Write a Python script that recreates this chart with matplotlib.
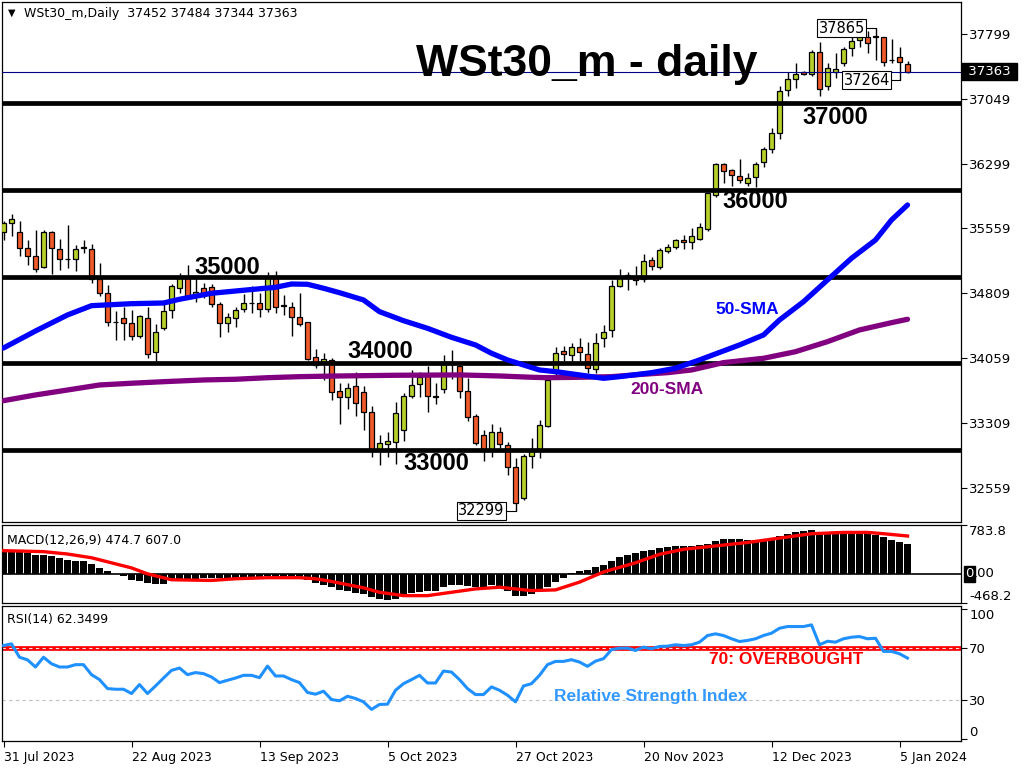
import matplotlib
matplotlib.use('Agg')
import matplotlib.pyplot as plt
import matplotlib.transforms as mtransforms
from matplotlib.patches import Rectangle
import pandas as pd

# daily bars, 31 Jul 2023 .. 8 Jan 2024 (no bars on 25 Dec and 1 Jan)
dates = [d for d in pd.bdate_range('2023-07-31', '2024-01-08')
         if d.strftime('%m-%d') not in ('12-25', '01-01')]

opens = [35514, 35615, 35511, 35326, 35241, 35114, 35511, 35315, 35199, 35199,
         35330, 35315, 34972, 34807, 34473, 34519, 34461, 34315, 34519, 34133,
         34410, 34614, 34865, 34987, 34780, 34865, 34883, 34680, 34461, 34526,
         34622, 34690, 34692, 34622, 34987, 34662, 34653, 34537, 34476, 34069,
         34018, 34038, 33680, 33614, 33738, 33672, 33434, 32999, 33065, 33088,
         33230, 33626, 33757, 33853, 33612, 33700, 34018, 33968, 33680, 33391,
         33172, 32999, 33203, 33057, 32800, 32442, 32930, 33011, 33276, 33884,
         34145, 34095, 34191, 34103, 33930, 34288, 34384, 34895, 34984, 34999,
         34969, 35191, 35107, 35295, 35338, 35422, 35396, 35430, 35553, 35941,
         36296, 36230, 36161, 36083, 36146, 36319, 36469, 36653, 37153, 37276,
         37361, 37334, 37595, 37199, 37357, 37461, 37634, 37730, 37761, 37765,
         37761, 37497, 37530, 37452]
highs = [35641, 35719, 35641, 35422, 35538, 35538, 35526, 35430, 35595, 35364,
         35422, 35373, 35153, 34903, 34603, 34653, 34611, 34557, 34653, 34449,
         34680, 34911, 35038, 35134, 34980, 34923, 34911, 34703, 34576, 34653,
         34796, 34891, 34814, 35056, 35068, 34788, 34710, 34807, 34480, 34161,
         34115, 34057, 33769, 33776, 33903, 33738, 33507, 33172, 33210, 33557,
         33653, 33922, 33903, 33968, 33769, 34095, 34153, 33980, 33826, 33414,
         33230, 33299, 33268, 33095, 32903, 32953, 33134, 33345, 33864, 34184,
         34199, 34230, 34288, 34242, 34346, 34441, 34961, 35084, 35056, 35122,
         35257, 35223, 35333, 35373, 35437, 35480, 35557, 35622, 35979, 36307,
         36307, 36241, 36357, 36192, 36326, 36492, 36711, 37199, 37364, 37461,
         37376, 37614, 37710, 37468, 37576, 37646, 37807, 37822, 37834, 37865,
         37768, 37741, 37646, 37484]
lows = [35422, 35472, 35241, 35134, 35050, 35096, 35026, 35076, 35103, 35064,
        35269, 34923, 34780, 34433, 34268, 34268, 34268, 34288, 34064, 34018,
        34384, 34519, 34807, 34738, 34710, 34749, 34653, 34307, 34357, 34422,
        34595, 34576, 34537, 34595, 34583, 34557, 34318, 34430, 34038, 33942,
        33807, 33576, 33299, 33469, 33395, 33230, 32915, 32826, 32922, 32838,
        33106, 33596, 33614, 33441, 33530, 33660, 33815, 33596, 33337, 33057,
        32876, 32922, 33019, 32711, 32299, 32420, 32788, 32903, 33268, 33845,
        34026, 34018, 34018, 33884, 33884, 34184, 34307, 34876, 34845, 34903,
        34934, 35076, 35091, 35269, 35315, 35315, 35318, 35422, 35529, 35922,
        36076, 36049, 36076, 36045, 36037, 36268, 36429, 36587, 37084, 37179,
        37326, 37314, 37084, 37153, 37288, 37433, 37545, 37652, 37576, 37499,
        37433, 37461, 37264, 37344]
closes = [35618, 35661, 35326, 35241, 35087, 35511, 35326, 35199, 35205, 35315,
          35336, 34972, 34807, 34473, 34478, 34461, 34315, 34545, 34103, 34357,
          34603, 34891, 34999, 34768, 34826, 34796, 34680, 34461, 34537, 34611,
          34692, 34694, 34622, 34987, 34646, 34667, 34530, 34453, 34046, 33980,
          34046, 33665, 33614, 33711, 33538, 33434, 32984, 33076, 33099, 33423,
          33622, 33749, 33845, 33622, 33617, 34018, 33991, 33680, 33383, 33076,
          32991, 33210, 33068, 32800, 32384, 32930, 32991, 33284, 33807, 34115,
          34103, 34191, 34133, 33942, 34237, 34364, 34895, 34999, 35015, 34961,
          35183, 35122, 35307, 35338, 35422, 35396, 35468, 35569, 35961, 36296,
          36222, 36169, 36114, 36134, 36296, 36469, 36653, 37145, 37276, 37334,
          37337, 37595, 37164, 37410, 37392, 37629, 37718, 37761, 37699, 37770,
          37472, 37502, 37472, 37363]

# moving averages at some bars
sma50_bars = [0, 4, 8, 11, 16, 20, 22, 26, 30, 34, 36, 38, 40, 42, 45, 47, 50, 53, 56, 59,
              61, 63, 67, 69, 72, 75, 77, 81, 84, 87, 92, 95, 97, 100, 103, 106, 109, 111, 113]
sma50 = [34176, 34372, 34557, 34664, 34687, 34695, 34738, 34807, 34842, 34876,
         34914, 34911, 34865, 34814, 34730, 34595, 34491, 34403, 34299, 34211,
         34115, 34038, 33922, 33903, 33865, 33826, 33845, 33891, 33942, 34038,
         34211, 34326, 34499, 34710, 34961, 35211, 35422, 35653, 35826]
sma200_bars = [0, 4, 8, 12, 16, 20, 25, 29, 33, 37, 42, 49, 57, 62, 66, 68, 72, 76, 80, 83,
               86, 90, 95, 99, 103, 107, 111, 113]
sma200 = [33568, 33634, 33691, 33749, 33769, 33787, 33807, 33815, 33833, 33845,
          33853, 33861, 33865, 33853, 33838, 33833, 33838, 33845, 33873, 33891,
          33922, 34007, 34057, 34133, 34249, 34384, 34468, 34507]

macd_hist = [383, 383, 372, 329, 302, 302, 285, 248, 220, 204,
             204, 155, 101, 41, -10, -41, -95, -122, -150, -160,
             -160, -95, -85, -80, -75, -70, -70, -72, -68, -60,
             -55, -50, -45, -40, -45, -45, -50, -60, -106, -143,
             -176, -215, -258, -280, -313, -323, -378, -411, -421, -411,
             -350, -313, -285, -280, -280, -215, -176, -176, -198, -215,
             -215, -187, -215, -270, -350, -350, -323, -269, -215, -133,
             -62, 10, 41, 57, 111, 149, 209, 274, 307, 334,
             367, 383, 421, 437, 448, 448, 448, 465, 481, 530,
             557, 557, 557, 546, 546, 557, 562, 611, 638, 676,
             693, 709, 671, 671, 671, 671, 682, 682, 666, 628,
             584, 546, 503, 474.7]
signal_bars = [0, 5, 8, 11, 13, 16, 18, 21, 26, 29, 33, 37, 39, 41, 45, 47, 50, 53, 56, 59,
               62, 64, 66, 69, 72, 75, 79, 82, 85, 89, 93, 97, 101, 105, 108, 110, 113]
signal = [372, 356, 318, 258, 193, 95, 0, -95, -106, -79, -62, -62, -79, -122, -225,
          -296, -350, -350, -296, -242, -215, -242, -269, -258, -133, 30, 177, 313,
          394, 448, 503, 574, 644, 665, 665, 644, 607]

rsi = [72, 73.3, 63, 61, 55.5, 63, 58, 55.5, 55.5, 57.3,
       57.3, 49.6, 45.8, 38.9, 38.4, 38.4, 35.1, 42, 35.1, 40.9,
       47, 52.9, 54.7, 49.6, 51.2, 50.4, 47.8, 43.5, 45.3, 47,
       49.1, 49.1, 47.3, 56.2, 48.6, 48.6, 45.8, 43.5, 35.9, 34.6,
       36.9, 30.5, 29.5, 33, 31.3, 28.7, 22.9, 26.7, 26.9, 37.6,
       42.7, 45.8, 49.1, 43.2, 43.2, 52.4, 51.6, 45.8, 38.9, 34.3,
       34.3, 40.2, 37.6, 33.8, 28.7, 40.9, 42.7, 49.1, 57.3, 59.8,
       59.8, 61.1, 59.3, 56, 60, 61.9, 68.8, 70, 70, 68.2,
       70.8, 69.5, 71.3, 71.5, 72.6, 72, 72.6, 74.6, 79.7, 81,
       79.7, 77.2, 75.1, 75.9, 77.2, 79.7, 81.5, 85.3, 86.6, 86.6,
       86.6, 87.9, 72.6, 75.3, 74.6, 77.2, 78.4, 78.9, 77.2, 77.6,
       67.5, 67.5, 65.7, 62.3499]

levels = [37000, 36000, 35000, 34000, 33000]
price_ticks = [37799, 37049, 36299, 35559, 34809, 34059, 33309, 32559]

UP = '#b8d12a'
DOWN = '#f05a28'
BOLD = 'Liberation Sans'

fig = plt.figure(figsize=(10.24, 7.68), dpi=100)
L, W = 2 / 1024, 959 / 1024
ax = fig.add_axes([L, 1 - 522 / 768, W, 520 / 768])
mac = fig.add_axes([L, 1 - 603 / 768, W, 78 / 768])
rs = fig.add_axes([L, 1 - 741 / 768, W, 135 / 768])

xlim = (-1.5 / 8, 957.5 / 8)
for a in (ax, mac, rs):
    a.set_xlim(*xlim)
    a.yaxis.tick_right()
    a.tick_params(axis='y', labelsize=9.5, length=4, pad=2, width=0.8)
    a.tick_params(axis='x', bottom=False, labelbottom=False)
    for s in a.spines.values():
        s.set_linewidth(0.9)

# candles
for i in range(len(opens)):
    o, h, l, c = opens[i], highs[i], lows[i], closes[i]
    ax.vlines(i, l, h, color='black', lw=1, zorder=2)
    col = UP if c >= o else DOWN
    ax.add_patch(Rectangle((i - 0.3, min(o, c)), 0.6, max(abs(c - o), 4),
                           facecolor=col, edgecolor='black', lw=0.9, zorder=3))

for lv in levels:
    ax.axhline(lv, color='black', lw=3.4, zorder=4)
ax.axhline(closes[-1], color='#000080', lw=0.8, zorder=4)

ax.plot(sma200_bars, sma200, color='#800080', lw=3.8, zorder=5, solid_capstyle='round')
ax.plot(sma50_bars, sma50, color='#0000ff', lw=3.8, zorder=5, solid_capstyle='round')

ax.set_ylim(32168, 38168)
ax.set_yticks(price_ticks)
ax.set_yticklabels([str(v) for v in price_ticks])

blend = mtransforms.blended_transform_factory(ax.transAxes, ax.transData)
ax.text(1.003, closes[-1], ' 37363 ', transform=blend, color='white', fontsize=9.5,
        va='center', ha='left', zorder=10,
        bbox=dict(facecolor='black', edgecolor='black', boxstyle='square,pad=0.15'))

# high / low callouts
box = dict(facecolor='white', edgecolor='black', lw=0.8, boxstyle='square,pad=0.1')
ax.text(104.8, 37865, '37865', ha='center', va='center', fontsize=10.5, bbox=box, zorder=8)
ax.plot([107.6, 109], [37865, 37865], color='black', lw=0.8, zorder=7)
ax.text(107.9, 37264, '37264', ha='center', va='center', fontsize=10.5, bbox=box, zorder=8)
ax.plot([110.7, 112], [37264, 37264], color='black', lw=0.8, zorder=7)
ax.text(59.75, 32299, '32299', ha='center', va='center', fontsize=10.5, bbox=box, zorder=8)
ax.plot([62.5, 64], [32299, 32299], color='black', lw=0.8, zorder=7)


def px(x, y):
    return x / 1024, 1 - y / 768


fig.text(*px(587, 76), 'WSt30_m - daily', fontsize=32, fontweight='bold', family=BOLD,
         ha='center', va='baseline', zorder=9)
for txt, x, y in [('37000', 835, 118), ('36000', 755, 202), ('35000', 227, 267),
                  ('34000', 380, 352), ('33000', 436, 463)]:
    fig.text(*px(x, y), txt, fontsize=17, fontweight='bold', family=BOLD,
             ha='center', va='center')
fig.text(*px(747, 309), '50-SMA', fontsize=12.5, fontweight='bold', family=BOLD,
         color='#0000ff', ha='center', va='center')
fig.text(*px(667, 390), '200-SMA', fontsize=12.5, fontweight='bold', family=BOLD,
         color='#800080', ha='center', va='center')
fig.text(*px(8, 13), '\u25bc', fontsize=7, ha='left', va='center')
fig.text(*px(24, 14), 'WSt30_m,Daily  37452 37484 37344 37363', fontsize=9,
         ha='left', va='center')

# MACD panel
mac.bar(range(len(macd_hist)), macd_hist, width=0.85, color='black', zorder=2)
mac.plot(signal_bars, signal, color='#ff0000', lw=2.4, zorder=3)
mac.axhline(0, color='black', lw=1.2)
mac.set_ylim(-468.2, 783.8)
mac.set_yticks([-468.2, 783.8])
mac.set_yticklabels(['-468.2', '783.8'])
tl = mac.get_yticklabels()
tl[0].set_va('bottom')
tl[1].set_va('top')
mblend = mtransforms.blended_transform_factory(mac.transAxes, mac.transData)
mac.text(1.0045, 0, '0', transform=mblend, color='white', fontsize=9.5, va='center',
         ha='left', bbox=dict(facecolor='black', edgecolor='black', boxstyle='square,pad=0.1'))
mac.text(1.0135, 0, '.00', transform=mblend, color='black', fontsize=9.5, va='center',
         ha='left')
mac.text(0.005, 0.8, 'MACD(12,26,9) 474.7 607.0', transform=mac.transAxes,
         fontsize=9, ha='left', va='center')

# RSI panel
rs.plot(range(len(rsi)), rsi, color='#1e90ff', lw=2.2, zorder=3)
rs.axhline(70, color='#ff0000', lw=3.4, zorder=2)
rs.axhline(70, color='#e8e8e8', lw=0.8, ls=(0, (3, 3)), zorder=2)
rs.axhline(30, color='#c0c0c0', lw=0.8, ls=(0, (3, 3)), zorder=1)
rs.set_ylim(-1.4, 102.4)
rs.set_yticks([0, 30, 70, 100])
rs.set_yticklabels(['0', '30', '70', '100'])
tl = rs.get_yticklabels()
tl[0].set_va('bottom')
tl[3].set_va('top')
rs.text(0.005, 0.9, 'RSI(14) 62.3499', transform=rs.transAxes, fontsize=9,
        ha='left', va='center')
fig.text(*px(786, 660), '70: OVERBOUGHT', fontsize=12.5, fontweight='bold', family=BOLD,
         color='#ff0000', ha='center', va='center')
fig.text(*px(651, 696), 'Relative Strength Index', fontsize=12.5, fontweight='bold',
         family=BOLD, color='#3399ff', ha='center', va='center')

tick_idx = list(range(0, len(dates) - 1, 16))
rs.set_xticks(tick_idx)
rs.set_xticklabels([f"{dates[k].day} {dates[k].strftime('%b %Y')}" for k in tick_idx],
                   ha='left')
rs.tick_params(axis='x', bottom=True, labelbottom=True, labelsize=9, length=4, pad=3)

fig.savefig('out.png', dpi=100, facecolor='white')
